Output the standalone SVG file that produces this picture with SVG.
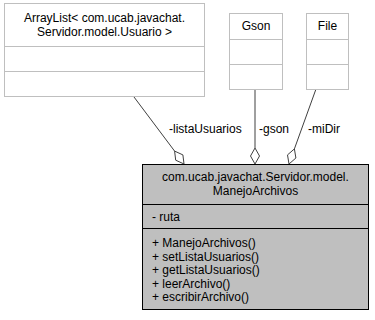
<svg xmlns="http://www.w3.org/2000/svg" width="375" height="320" viewBox="0 0 375 320">
  <style>
    text { font-family: "Liberation Sans", Arial, Helvetica, sans-serif; font-size: 12px; fill: #000; }
    .mid { text-anchor: middle; }
    .ext { fill: #ffffff; stroke: #bfbfbf; stroke-width: 1; }
    .main { fill: #bfbfbf; stroke: #000000; stroke-width: 1; }
    .edge { fill: none; stroke: #404040; stroke-width: 1; }
    .diamond { fill: #ffffff; stroke: #404040; stroke-width: 1; }
  </style>
  <rect width="375" height="320" fill="#ffffff"/>

  <!-- aggregation connectors -->
  <g id="connectors">
    <path class="edge" d="M134,97 L174.6,151.1"/>
    <polygon class="diamond" points="184,164 182.9,154.9 174.6,151.1 175.7,160.2"/>
    <text x="169" y="133">-listaUsuarios</text>

    <path class="edge" d="M255,89 L255,148"/>
    <polygon class="diamond" points="255,164 259.5,156 255,148 250.5,156"/>
    <text x="259" y="133">-gson</text>

    <path class="edge" d="M316,89 L294.4,148.9"/>
    <polygon class="diamond" points="289,164 295.9,158 294.4,148.9 287.5,154.9"/>
    <text x="308" y="133">-miDir</text>
  </g>

  <!-- ArrayList< Usuario > -->
  <g id="node-arraylist">
    <rect class="ext" x="4.5" y="3.5" width="200" height="93"/>
    <line class="ext" x1="4.5" y1="46.5" x2="204.5" y2="46.5"/>
    <line class="ext" x1="4.5" y1="71.5" x2="204.5" y2="71.5"/>
    <text class="mid" x="104.5" y="22">ArrayList&lt; com.ucab.javachat.</text>
    <text class="mid" x="104.5" y="36">Servidor.model.Usuario &gt;</text>
  </g>

  <!-- Gson -->
  <g id="node-gson">
    <rect class="ext" x="229.5" y="13.5" width="53" height="76"/>
    <line class="ext" x1="229.5" y1="39.5" x2="282.5" y2="39.5"/>
    <line class="ext" x1="229.5" y1="64.5" x2="282.5" y2="64.5"/>
    <text class="mid" x="256" y="30">Gson</text>
  </g>

  <!-- File -->
  <g id="node-file">
    <rect class="ext" x="306.5" y="13.5" width="42" height="76"/>
    <line class="ext" x1="306.5" y1="39.5" x2="348.5" y2="39.5"/>
    <line class="ext" x1="306.5" y1="64.5" x2="348.5" y2="64.5"/>
    <text class="mid" x="327.5" y="30">File</text>
  </g>

  <!-- ManejoArchivos -->
  <g id="node-manejoarchivos">
    <rect class="main" x="142.5" y="164.5" width="226" height="145"/>
    <line class="main" x1="142.5" y1="204.5" x2="368.5" y2="204.5"/>
    <line class="main" x1="142.5" y1="228.5" x2="368.5" y2="228.5"/>
    <text class="mid" x="255.5" y="181">com.ucab.javachat.Servidor.model.</text>
    <text class="mid" x="255.5" y="195">ManejoArchivos</text>
    <text x="152" y="221">- ruta</text>
    <text x="152" y="247">+ ManejoArchivos()</text>
    <text x="152" y="260.5">+ setListaUsuarios()</text>
    <text x="152" y="274">+ getListaUsuarios()</text>
    <text x="152" y="287.5">+ leerArchivo()</text>
    <text x="152" y="301">+ escribirArchivo()</text>
  </g>
</svg>
